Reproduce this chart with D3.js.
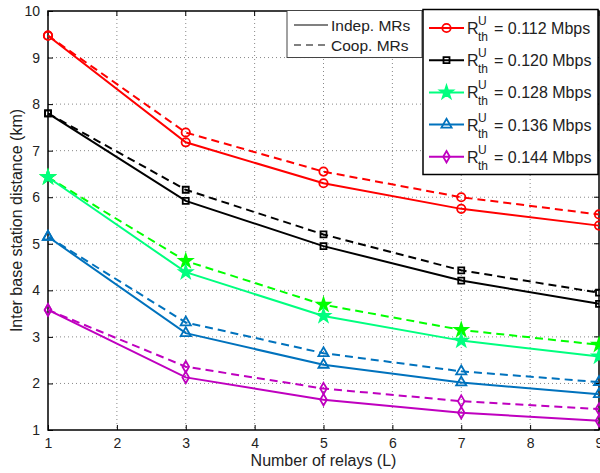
<!DOCTYPE html>
<html>
<head>
<meta charset="utf-8">
<script src="https://cdn.jsdelivr.net/npm/d3@7"></script>
<style>
  body { margin: 0; background: #fff; }
  text { font-family: "Liberation Sans", Arial, sans-serif; fill: #222; }
</style>
</head>
<body>
<svg width="600" height="473"></svg>
<script>
const relays = [1, 3, 5, 7, 9];
const thresholds = ['0.112', '0.120', '0.128', '0.136', '0.144'];

// independent MRs (solid)
const indep = [
    [9.47, 7.18, 6.30, 5.75, 5.39],
    [7.80, 5.92, 4.95, 4.21, 3.71],
    [6.43, 4.39, 3.45, 2.92, 2.58],
    [5.15, 3.08, 2.40, 2.02, 1.77],
    [3.58, 2.13, 1.65, 1.37, 1.20]
]
// cooperative MRs (dashed)
const coop = [
    [9.47, 7.39, 6.55, 6.00, 5.63],
    [7.80, 6.16, 5.20, 4.43, 3.95],
    [6.43, 4.63, 3.69, 3.15, 2.83],
    [5.15, 3.31, 2.65, 2.26, 2.03],
    [3.58, 2.36, 1.89, 1.62, 1.45]
]

const xTicks = [1, 2, 3, 4, 5, 6, 7, 8, 9];
const yTicks = [1, 2, 3, 4, 5, 6, 7, 8, 9, 10];

const solidColors = ['#ff0000', '#000000', '#00ff7f', '#0072bd', '#bf00bf'];
const dashColors = ['#ff0000', '#000000', '#00ff00', '#0072bd', '#bf00bf'];
const markers = [d3.symbolCircle, d3.symbolSquare, d3.symbolStar, d3.symbolTriangle, d3.symbolDiamond];
const markerSizes = [55, 36, 50, 45, 38];

const plotL = 48, plotR = 599, plotT = 11, plotB = 430;

const svg = d3.select('svg');

const x = d3.scaleLinear().domain([1, 9]).range([plotL, plotR]);
const y = d3.scaleLinear().domain([1, 10]).range([plotB, plotT]);

// grid
const grid = svg.append('g');
grid.selectAll('.gx').data(xTicks.slice(1, -1)).enter().append('line')
    .attr('x1', d => x(d)).attr('x2', d => x(d))
    .attr('y1', plotT).attr('y2', plotB)
    .attr('stroke', '#888').attr('stroke-width', 1).attr('stroke-dasharray', '1,3');
grid.selectAll('.gy').data(yTicks.slice(1, -1)).enter().append('line')
    .attr('x1', plotL).attr('x2', plotR)
    .attr('y1', d => y(d)).attr('y2', d => y(d))
    .attr('stroke', '#888').attr('stroke-width', 1).attr('stroke-dasharray', '1,3');

// axes
const xAxis = svg.append('g')
    .attr('transform', `translate(0,${plotB})`)
    .call(d3.axisBottom(x).tickValues(xTicks).tickSizeInner(-5).tickSizeOuter(0).tickPadding(8));
const yAxis = svg.append('g')
    .attr('transform', `translate(${plotL},0)`)
    .call(d3.axisLeft(y).tickValues(yTicks).tickSizeInner(-5).tickSizeOuter(0).tickPadding(8));
[xAxis, yAxis].forEach(a => {
    a.select('.domain').remove();
    a.selectAll('line').attr('stroke', '#000');
    a.selectAll('text').style('font-size', '14px').attr('fill', '#222');
});
// top/right ticks
svg.append('g').selectAll('line').data(xTicks).enter().append('line')
    .attr('x1', d => x(d)).attr('x2', d => x(d)).attr('y1', plotT).attr('y2', plotT + 5)
    .attr('stroke', '#000');
svg.append('g').selectAll('line').data(yTicks).enter().append('line')
    .attr('x1', plotR).attr('x2', plotR - 5).attr('y1', d => y(d)).attr('y2', d => y(d))
    .attr('stroke', '#000');

svg.append('rect')
    .attr('x', plotL).attr('y', plotT)
    .attr('width', plotR - plotL).attr('height', plotB - plotT)
    .attr('fill', 'none').attr('stroke', '#000').attr('stroke-width', 1.5);

// lines
const line = d3.line().x((d, i) => x(relays[i])).y(d => y(d));

function drawSeries(vals, color, dashed, k) {
    svg.append('path')
        .datum(vals)
        .attr('d', line)
        .attr('fill', 'none')
        .attr('stroke', color)
        .attr('stroke-width', 2)
        .attr('stroke-dasharray', dashed ? '8,5' : null);
    svg.append('g').selectAll('path').data(vals).enter().append('path')
        .attr('transform', (d, i) => `translate(${x(relays[i])},${y(d)})`)
        .attr('d', d3.symbol().type(markers[k]).size(markerSizes[k]))
        .attr('fill', k === 2 ? color : 'none')
        .attr('stroke', color)
        .attr('stroke-width', 1.8);
}

for (let k = 0; k < thresholds.length; k++) {
    drawSeries(coop[k], dashColors[k], true, k);
    drawSeries(indep[k], solidColors[k], false, k);
}

// legend 1 (line style)
const lg1 = svg.append('g');
lg1.append('rect').attr('x', 287).attr('y', 10.5).attr('width', 135).attr('height', 47)
    .attr('fill', '#fff').attr('stroke', '#444').attr('stroke-width', 1);
const styles = [['Indep. MRs', null], ['Coop. MRs', '7,5']];
styles.forEach((s, i) => {
    const yy = 25 + i * 20;
    lg1.append('line').attr('x1', 294).attr('x2', 328).attr('y1', yy).attr('y2', yy)
        .attr('stroke', '#808080').attr('stroke-width', 2).attr('stroke-dasharray', s[1]);
    lg1.append('text').attr('x', 331).attr('y', yy + 5.5).style('font-size', '15.5px').text(s[0]);
});

// legend 2 (thresholds)
const lg2 = svg.append('g');
lg2.append('rect').attr('x', 423).attr('y', 9.5).attr('width', 175).attr('height', 165)
    .attr('fill', '#fff').attr('stroke', '#000').attr('stroke-width', 1.5);
thresholds.forEach((t, k) => {
    const yy = 28 + k * 32.2;
    lg2.append('line').attr('x1', 429).attr('x2', 464).attr('y1', yy).attr('y2', yy)
        .attr('stroke', solidColors[k]).attr('stroke-width', 2);
    lg2.append('path')
        .attr('transform', `translate(446.5,${yy})`)
        .attr('d', d3.symbol().type(markers[k]).size(markerSizes[k]))
        .attr('fill', k === 2 ? solidColors[k] : 'none')
        .attr('stroke', solidColors[k]).attr('stroke-width', 1.8);
    lg2.append('text').attr('x', 467).attr('y', yy + 6).style('font-size', '16px').text('R');
    lg2.append('text').attr('x', 478).attr('y', yy - 3).style('font-size', '12px').text('U');
    lg2.append('text').attr('x', 478).attr('y', yy + 13).style('font-size', '12px').text('th');
    lg2.append('text').attr('x', 494).attr('y', yy + 6).style('font-size', '16px').text('= ' + t + ' Mbps');
});

// axis labels
svg.append('text')
    .attr('text-anchor', 'middle')
    .attr('x', (plotL + plotR) / 2).attr('y', 466)
    .style('font-size', '16px')
    .text('Number of relays (L)');

svg.append('text')
    .attr('text-anchor', 'middle')
    .attr('transform', `translate(22, ${(plotT + plotB) / 2}) rotate(-90)`)
    .style('font-size', '16px')
    .text('Inter base station distance (km)');
</script>
</body>
</html>
